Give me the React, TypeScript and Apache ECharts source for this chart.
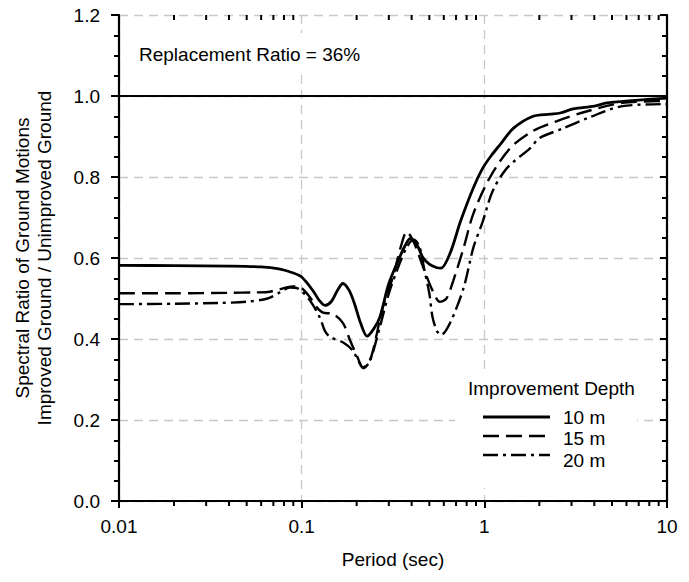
import React, { useEffect, useRef } from "react";
import * as echarts from "echarts";

const xTickLabels = ["0.01", "0.1", "1", "10"];
const yTickLabels = ["0.0", "0.2", "0.4", "0.6", "0.8", "1.0", "1.2"];

const periods10 = [0.01, 0.02, 0.04, 0.06, 0.075, 0.09, 0.1, 0.115, 0.125, 0.134, 0.145, 0.158, 0.168, 0.182, 0.195, 0.21, 0.228, 0.248, 0.268, 0.3, 0.344, 0.37, 0.392, 0.42, 0.46, 0.5, 0.55, 0.58, 0.65, 0.74, 0.87, 0.98, 1.1, 1.22, 1.44, 1.85, 2.3, 2.6, 3.06, 4.0, 4.7, 7.0, 10];
const values10 = [0.582, 0.581, 0.58, 0.578, 0.573, 0.563, 0.553, 0.52, 0.495, 0.483, 0.492, 0.522, 0.537, 0.52, 0.486, 0.44, 0.407, 0.425, 0.454, 0.537, 0.602, 0.632, 0.648, 0.64, 0.602, 0.585, 0.576, 0.575, 0.612, 0.69, 0.773, 0.822, 0.855, 0.88, 0.92, 0.95, 0.955, 0.958, 0.968, 0.975, 0.983, 0.99, 0.995];

const periods15 = [0.01, 0.02, 0.04, 0.055, 0.065, 0.076, 0.089, 0.098, 0.111, 0.12, 0.131, 0.148, 0.168, 0.184, 0.2, 0.217, 0.232, 0.246, 0.278, 0.316, 0.35, 0.376, 0.41, 0.47, 0.52, 0.57, 0.62, 0.675, 0.77, 0.87, 1.07, 1.39, 1.85, 2.5, 3.7, 5.7, 10];
const values15 = [0.513, 0.513, 0.514, 0.515, 0.516, 0.523, 0.53, 0.528, 0.503, 0.48, 0.465, 0.462, 0.44, 0.397, 0.36, 0.33, 0.34, 0.372, 0.478, 0.553, 0.63, 0.665, 0.64, 0.569, 0.52, 0.492, 0.5, 0.543, 0.625, 0.709, 0.798, 0.872, 0.914, 0.938, 0.963, 0.983, 0.988];

const periods20 = [0.01, 0.02, 0.035, 0.05, 0.065, 0.076, 0.086, 0.095, 0.111, 0.126, 0.134, 0.143, 0.168, 0.19, 0.205, 0.217, 0.236, 0.268, 0.3, 0.344, 0.38, 0.41, 0.44, 0.47, 0.5, 0.52, 0.55, 0.58, 0.65, 0.77, 0.87, 0.98, 1.11, 1.33, 1.79, 2.0, 2.7, 3.7, 5.7, 10];
const values20 = [0.486, 0.487, 0.489, 0.492, 0.5, 0.515, 0.527, 0.525, 0.495, 0.452, 0.42, 0.405, 0.392, 0.372, 0.345, 0.328, 0.345, 0.43, 0.512, 0.587, 0.63, 0.645, 0.63, 0.57, 0.512, 0.455, 0.42, 0.41, 0.44, 0.526, 0.625, 0.69, 0.765, 0.822, 0.872, 0.896, 0.92, 0.946, 0.975, 0.98];

const minorLogTicks = [0.02, 0.03, 0.04, 0.05, 0.06, 0.07, 0.08, 0.09, 0.2, 0.3, 0.4, 0.5, 0.6, 0.7, 0.8, 0.9, 2, 3, 4, 5, 6, 7, 8, 9];

const seriesNames = ["10 m", "15 m", "20 m"];
const referenceRatio = 1.0;

const FONT = "Liberation Sans, Arial, Helvetica, sans-serif";
const FS = 19;

const zip = (xs: number[], ys: number[]) => xs.map((x, i) => [x, ys[i]]);

export default function App() {
  const ref = useRef<HTMLDivElement>(null);
  useEffect(() => {
    if (!ref.current) return;
    const chart = echarts.init(ref.current, undefined, { renderer: "svg" });
    const dashStyles: any[] = ["solid", [16, 7], [15, 5, 3, 5]];
    const widths = [2.8, 2.4, 2.4];
    const legendY = [417, 436, 455];
    const legendTextY = [417, 438, 460];
    const option: any = {
      animation: false,
      backgroundColor: "#fff",
      textStyle: { fontFamily: FONT },
      grid: { left: 119, right: 22, top: 15, bottom: 81 },
      xAxis: [
        {
          type: "log",
          logBase: 10,
          min: 0.01,
          max: 10,
          position: "bottom",
          name: "Period (sec)",
          nameLocation: "middle",
          nameGap: 49,
          nameTextStyle: { fontSize: FS, color: "#000", fontFamily: FONT },
          axisLine: { show: true, lineStyle: { color: "#000", width: 2.2 } },
          axisTick: { show: true, inside: false, length: 6, lineStyle: { color: "#000", width: 2 } },
          axisLabel: {
            fontSize: FS,
            color: "#000",
            fontFamily: FONT,
            margin: 16,
            formatter: (v: number) => {
              const idx = [0.01, 0.1, 1, 10].findIndex((t) => Math.abs(t - v) < 1e-9);
              return idx >= 0 ? xTickLabels[idx] : "";
            },
          },
          splitLine: { show: true, lineStyle: { color: "#c8c8c8", type: [9, 6], width: 1.3 } },
          minorTick: { show: false },
        },
        {
          type: "log",
          logBase: 10,
          min: 0.01,
          max: 10,
          position: "top",
          axisLine: { show: true, lineStyle: { color: "#000", width: 2.2 } },
          axisTick: { show: true, inside: true, length: 7, lineStyle: { color: "#000", width: 2 } },
          axisLabel: { show: false },
          splitLine: { show: false },
        },
      ],
      yAxis: [
        {
          type: "value",
          min: 0,
          max: 1.2,
          interval: 0.2,
          position: "left",
          axisLine: { show: true, lineStyle: { color: "#000", width: 2.2 } },
          axisTick: { show: true, inside: false, length: 8, lineStyle: { color: "#000", width: 2 } },
          minorTick: { show: true, splitNumber: 4, length: 5, lineStyle: { color: "#000", width: 2 } },
          axisLabel: {
            fontSize: FS,
            color: "#000",
            fontFamily: FONT,
            margin: 19,
            formatter: (v: number) => yTickLabels[Math.round(v / 0.2)] ?? "",
          },
          splitLine: { show: true, lineStyle: { color: "#c8c8c8", type: [9, 6], width: 1.3 } },
        },
        {
          type: "value",
          min: 0,
          max: 1.2,
          interval: 0.2,
          position: "right",
          axisLine: { show: true, lineStyle: { color: "#000", width: 2.2 } },
          axisTick: { show: true, inside: true, length: 7, lineStyle: { color: "#000", width: 2 } },
          minorTick: { show: true, splitNumber: 4, length: 5, lineStyle: { color: "#000", width: 2 } },
          axisLabel: { show: false },
          splitLine: { show: false },
        },
      ],
      series: [
        {
          name: seriesNames[0],
          type: "line",
          data: zip(periods10, values10),
          showSymbol: false,
          smooth: 0.3,
          lineStyle: { color: "#000", width: widths[0], type: dashStyles[0] },
          markLine: {
            silent: true,
            symbol: "none",
            label: { show: false },
            lineStyle: { color: "#000", width: 2.2, type: "solid" },
            data: [{ yAxis: referenceRatio }],
          },
          z: 3,
        },
        {
          name: seriesNames[1],
          type: "line",
          data: zip(periods15, values15),
          showSymbol: false,
          smooth: 0.3,
          lineStyle: { color: "#000", width: widths[1], type: dashStyles[1] },
          z: 3,
        },
        {
          name: seriesNames[2],
          type: "line",
          data: zip(periods20, values20),
          showSymbol: false,
          smooth: 0.3,
          lineStyle: { color: "#000", width: widths[2], type: dashStyles[2] },
          z: 3,
        },
        {
          type: "custom",
          silent: true,
          clip: false,
          data: minorLogTicks.map((v) => [v, 0]),
          renderItem: (params: any, api: any) => {
            const x = api.value(0);
            const pb = api.coord([x, 0]);
            const pt = api.coord([x, 1.2]);
            return {
              type: "group",
              children: [
                { type: "line", shape: { x1: pb[0], y1: pb[1], x2: pb[0], y2: pb[1] + 5 }, style: { stroke: "#000", lineWidth: 2 } },
                { type: "line", shape: { x1: pt[0], y1: pt[1], x2: pt[0], y2: pt[1] + 5 }, style: { stroke: "#000", lineWidth: 2 } },
              ],
            };
          },
          z: 4,
        },
      ],
      graphic: [
        {
          type: "text",
          x: 33,
          y: 258,
          rotation: Math.PI / 2,
          style: {
            text: "Spectral Ratio of Ground Motions\nImproved Ground / Unimproved Ground",
            fontSize: FS,
            fontFamily: FONT,
            fill: "#000",
            align: "center",
            verticalAlign: "middle",
            lineHeight: 22,
          },
        },
        { type: "rect", z: 10, shape: { x: 130, y: 33, width: 248, height: 40 }, style: { fill: "#fff" } },
        {
          type: "text",
          z: 11,
          x: 139,
          y: 54,
          style: { text: "Replacement Ratio = 36%", fontSize: FS, fontFamily: FONT, fill: "#000", align: "left", verticalAlign: "middle" },
        },
        { type: "rect", z: 10, shape: { x: 455, y: 370, width: 182, height: 118 }, style: { fill: "#fff" } },
        {
          type: "text",
          z: 11,
          x: 468,
          y: 388,
          style: { text: "Improvement Depth", fontSize: FS, fontFamily: FONT, fill: "#000", align: "left", verticalAlign: "middle" },
        },
        ...seriesNames.flatMap((n, i) => [
          {
            type: "line",
            z: 11,
            shape: { x1: 483, y1: legendY[i], x2: 550, y2: legendY[i] },
            style: {
              stroke: "#000",
              lineWidth: widths[i],
              lineDash: i === 0 ? null : dashStyles[i],
            },
          },
          {
            type: "text",
            z: 11,
            x: 563,
            y: legendTextY[i],
            style: { text: n, fontSize: FS, fontFamily: FONT, fill: "#000", align: "left", verticalAlign: "middle" },
          },
        ]),
      ],
    };
    chart.setOption(option);
    return () => chart.dispose();
  }, []);
  return <div ref={ref} style={{ width: 689, height: 582, position: "absolute", left: 0, top: 0 }} />;
}
